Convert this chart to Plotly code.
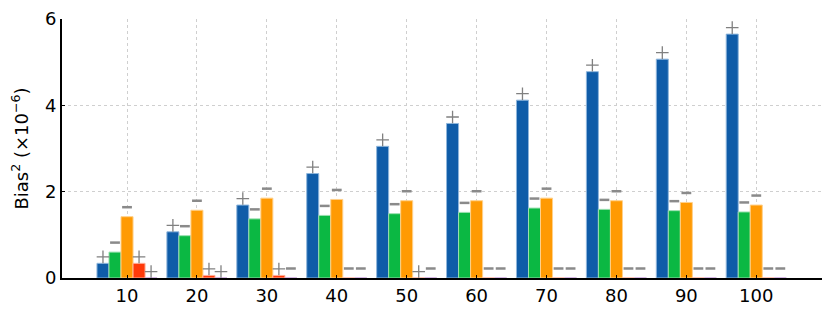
import plotly.graph_objects as go

sizes = [10, 20, 30, 40, 50, 60, 70, 80, 90, 100]
series_names = ["A", "B", "C", "D", "E"]
blue = [0.34, 1.07, 1.69, 2.42, 3.05, 3.58, 4.12, 4.78, 5.07, 5.65]
green = [0.60, 0.98, 1.37, 1.45, 1.49, 1.52, 1.62, 1.59, 1.56, 1.53]
orange = [1.42, 1.57, 1.85, 1.82, 1.79, 1.79, 1.85, 1.79, 1.75, 1.69]
red = [0.34, 0.06, 0.06, 0.0, 0.0, 0.0, 0.0, 0.0, 0.0, 0.0]
fifth = [0.0, 0.0, 0.0, 0.0, 0.0, 0.0, 0.0, 0.0, 0.0, 0.0]
signs_blue = ["+"] * 10
signs_green = ["-"] * 10
signs_orange = ["-"] * 10
signs_red = ["+", "+", "+", "-", "+", "-", "-", "-", "-", "-"]
signs_fifth = ["+", "+", "-", "-", "-", "-", "-", "-", "-", "-"]

values = [blue, green, orange, red, fifth]
signs = [signs_blue, signs_green, signs_orange, signs_red, signs_fifth]
colors = ["#0f5ca8", "#0bb843", "#ff9a03", "#ff3a0a", "#8a3fb0"]
edges = ["#8fb6dc", "#9be0b0", "#ffd08a", "#ffb09a", "#c9a0dc"]

spacing = 10
bargap = 0.14
bw = spacing * (1 - bargap) / 5

fig = go.Figure()
for i, (vals, col, ec, nm) in enumerate(zip(values, colors, edges, series_names)):
    fig.add_trace(go.Bar(x=sizes, y=vals, name=nm, marker=dict(color=col, line=dict(color=ec, width=1)),
                         showlegend=False))

for i, (vals, sg) in enumerate(zip(values, signs)):
    off = (i - 2) * bw
    px, py, mx, my = [], [], [], []
    for s, v, g in zip(sizes, vals, sg):
        if g == "+":
            px.append(s + off); py.append(v + 0.15)
        else:
            mx.append(s + off); my.append(v + 0.22)
    fig.add_trace(go.Scatter(x=px, y=py, mode="markers", showlegend=False, hoverinfo="skip",
                             marker=dict(symbol="cross-thin", size=9, line=dict(color="#808080", width=1.3))))
    fig.add_trace(go.Scatter(x=mx, y=my, mode="markers", showlegend=False, hoverinfo="skip",
                             marker=dict(symbol="line-ew", size=7, line=dict(color="#8a8a8a", width=2.5))))

fig.update_layout(
    width=830, height=314,
    margin=dict(l=62, r=8, t=15, b=36),
    barmode="group", bargap=bargap, bargroupgap=0,
    plot_bgcolor="white", paper_bgcolor="white",
    font=dict(family="DejaVu Sans", size=18, color="black"),
)
fig.update_xaxes(range=[0.7, 109.4], tickvals=sizes, ticktext=[str(s) for s in sizes],
                 showline=True, linecolor="black", linewidth=2, ticks="inside", ticklen=3,
                 tickcolor="black", showgrid=True, gridcolor="#cfcfcf", griddash="dot", gridwidth=1,
                 zeroline=False, tickfont=dict(size=18))
fig.update_yaxes(range=[0, 6], tickvals=[0, 2, 4, 6], showline=True, linecolor="black", linewidth=2,
                 ticks="inside", ticklen=3, tickcolor="black", showgrid=True, gridcolor="#cfcfcf",
                 griddash="dot", gridwidth=1, zeroline=False, tickfont=dict(size=18),
                 title=dict(text="Bias<sup>2</sup> (×10<sup>−6</sup>)", font=dict(size=18), standoff=12))

fig.write_html("out.html", config={"displayModeBar": False},
               post_script="document.body.style.margin='0';document.body.style.padding='0';")
